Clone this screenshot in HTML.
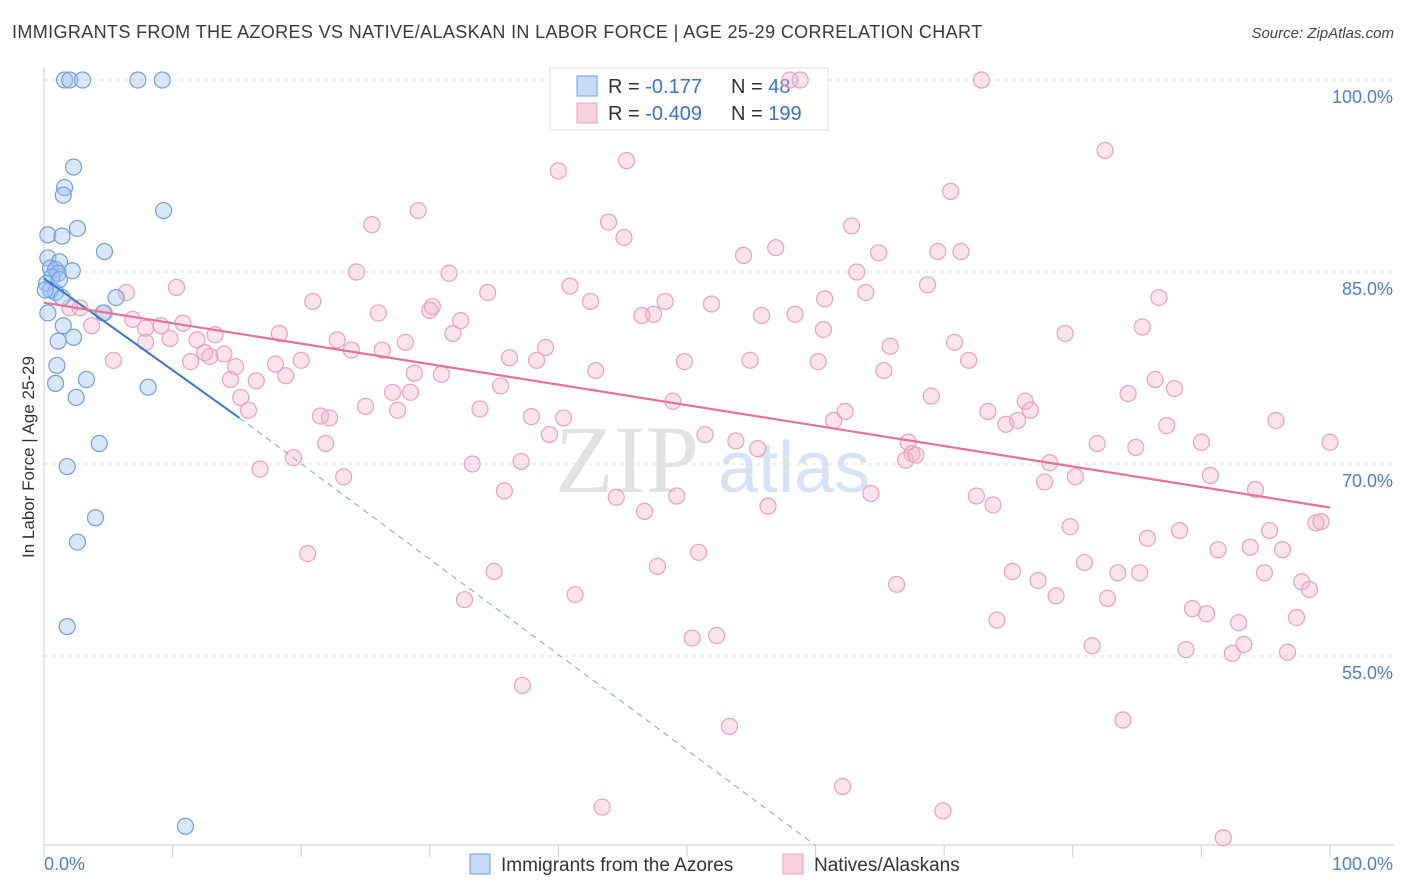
<!DOCTYPE html>
<html><head><meta charset="utf-8">
<style>
body{margin:0;background:#fff;font-family:"Liberation Sans",sans-serif;}
#wrap{position:relative;width:1406px;height:892px;overflow:hidden;}
.t{position:absolute;white-space:nowrap;}
</style></head>
<body>
<div id="wrap">
<div class="t" style="left:12px;top:22px;font-size:18px;color:#3a3a3a;letter-spacing:0.37px;">IMMIGRANTS FROM THE AZORES VS NATIVE/ALASKAN IN LABOR FORCE | AGE 25-29 CORRELATION CHART</div>
<div class="t" style="right:12px;top:25px;font-size:15px;color:#444;font-style:italic;">Source: ZipAtlas.com</div>
<svg id="chart" width="1406" height="892" style="position:absolute;left:0;top:0"></svg>
</div>
<script>
const xTicks=[0,10,20,30,40,50,60,70,80,90,100];
const yTicks=[55,70,85,100];
const yTickLabels=["55.0%","70.0%","85.0%","100.0%"];
const blueX=[1.6,2.0,3.0,7.3,9.2,2.3,1.6,1.5,9.3,2.6,0.3,1.4,4.7,0.3,1.2,0.5,0.9,2.2,1.1,0.6,0.2,0.9,5.6,0.3,1.5,4.6,2.3,1.1,1.0,3.3,0.9,8.1,2.5,4.3,1.8,4.0,2.6,1.8,11.0,0.5,1.2,0.1,1.4];
const blueY=[100,100,100,100,100,93.2,91.6,91.0,89.8,88.4,87.9,87.8,86.6,86.1,85.8,85.3,85.2,85.1,84.9,84.6,84.1,83.4,83.0,81.8,80.8,81.8,79.9,79.6,77.7,76.6,76.3,76.0,75.2,71.6,69.8,65.8,63.9,57.3,41.7,83.6,84.4,83.6,83.0];
const pinkX=[58.0,58.8,72.9,82.5,40.0,45.3,70.5,29.1,43.9,25.5,45.1,62.8,54.4,56.9,64.9,69.5,71.3,24.3,31.5,63.2,40.9,68.7,10.3,34.5,63.9,86.7,20.9,42.5,48.3,51.9,60.7,30.2,26.0,30.0,46.5,47.4,55.8,58.4,32.4,85.4,60.6,18.3,31.8,6.4,4.7,2.0,2.8,3.7,6.9,7.9,9.1,10.8,11.9,13.3,7.9,9.8,5.4,11.4,12.5,12.9,14.0,14.9,18.0,20.0,22.8,23.9,26.3,28.1,36.2,38.3,39.0,49.8,54.9,60.2,65.8,70.8,71.9,79.4,14.5,16.5,18.8,28.8,30.9,35.5,42.9,65.3,86.4,87.9,84.3,15.3,15.9,25.0,27.1,27.5,28.5,33.9,37.9,40.4,48.9,62.3,69.0,73.4,76.3,76.7,75.7,74.8,61.4,21.5,22.2,21.9,39.3,51.4,53.8,55.5,67.2,67.5,67.0,67.8,81.9,84.9,87.3,90.0,95.8,100.0,16.8,19.4,23.3,33.3,37.1,35.8,44.5,46.7,49.2,56.3,64.3,72.5,73.8,78.2,77.8,80.2,90.7,94.2,79.8,85.8,88.3,91.3,93.8,95.3,96.3,98.9,99.3,20.5,35.0,50.9,47.7,66.3,75.3,77.3,80.9,83.5,85.2,94.9,97.8,98.4,32.7,41.3,78.7,82.7,74.1,89.3,90.4,92.9,97.4,50.4,52.3,81.5,88.8,92.4,93.3,96.7,37.2,53.3,83.9,43.4,62.1,69.9,91.7];
const pinkY=[100,100,100,94.5,92.9,93.7,91.3,89.8,88.9,88.7,87.7,88.6,86.3,86.9,86.5,86.6,86.6,85.0,84.9,85.0,83.9,84.0,83.8,83.4,83.4,83.0,82.7,82.7,82.7,82.5,82.9,82.3,81.8,82.0,81.6,81.7,81.6,81.7,81.2,80.7,80.5,80.2,80.2,83.4,81.8,82.2,82.2,80.8,81.3,80.6,80.8,81.0,79.7,80.1,79.5,79.8,78.1,78.0,78.7,78.4,78.6,77.6,77.8,78.1,79.7,78.9,78.9,79.5,78.3,78.1,79.1,78.0,78.1,78.0,79.2,79.5,78.1,80.2,76.6,76.5,76.9,77.1,77.0,76.1,77.3,77.3,76.6,75.9,75.5,75.2,74.2,74.5,75.6,74.2,75.6,74.3,73.7,73.6,74.9,74.1,75.3,74.1,74.9,74.2,73.4,73.1,73.4,73.75,73.6,71.6,72.3,72.3,71.8,71.2,71.7,70.8,70.3,70.7,71.6,71.3,73.0,71.7,73.4,71.7,69.6,70.5,69.0,70.0,70.2,67.9,67.4,66.3,67.5,66.7,67.7,67.5,66.8,70.1,68.6,69.0,69.1,68.0,65.1,64.2,64.8,63.3,63.5,64.8,63.3,65.4,65.5,63.0,61.6,63.1,62.0,60.6,61.6,60.9,62.3,61.5,61.5,61.5,60.8,60.2,59.4,59.8,59.7,59.5,57.8,58.7,58.3,57.6,58.0,56.4,56.6,55.8,55.5,55.2,55.9,55.3,52.7,49.5,50.0,43.2,44.8,42.9,40.8];
const blueFit=[84.5,-0.717];
const pinkFit=[82.6,-0.16];

const X0=44,X1=1330,YTOP=80,PPY=12.8,BOTTOM=845,RIGHT=1394;
const sx=v=>X0+(X1-X0)*v/100;
const sy=v=>YTOP+(100-v)*PPY;
const svg=document.getElementById('chart');
const NS='http://www.w3.org/2000/svg';
function mk(tag,attrs){const e=document.createElementNS(NS,tag);for(const k in attrs)e.setAttribute(k,attrs[k]);svg.appendChild(e);return e;}

let wm=mk('text',{x:555,y:492,'font-size':96,'font-family':'Liberation Serif, serif',fill:'#e2e2e2'});wm.textContent='ZIP';

let wm2=mk('text',{x:718,y:492,'font-size':72,'font-family':'Liberation Sans, sans-serif',fill:'#d5e3f5'});wm2.textContent='atlas';


yTicks.forEach((v,i)=>{
  const g=mk('line',{x1:X0,x2:RIGHT,y1:sy(v),y2:sy(v),stroke:'#ddd','stroke-dasharray':'4,4'});
  
  const t=mk('text',{x:1393,y:sy(v)+23,'text-anchor':'end','font-size':18,fill:'#4a7fd9','font-family':'Liberation Sans, sans-serif'});
  t.textContent=yTickLabels[i];
  
});
let ax=mk('line',{x1:X0,x2:X0,y1:68,y2:BOTTOM,stroke:'#ccc'});

let bx=mk('line',{x1:X0,x2:RIGHT,y1:BOTTOM,y2:BOTTOM,stroke:'#ccc'});

xTicks.forEach(v=>{const l=mk('line',{x1:sx(v),x2:sx(v),y1:BOTTOM,y2:BOTTOM+12,stroke:'#ccc'});
  });
let xl0=mk('text',{x:44,y:870,'font-size':18,fill:'#4a7fd9','font-family':'Liberation Sans, sans-serif'});xl0.textContent='0.0%';

let xl1=mk('text',{x:1393,y:870,'text-anchor':'end','font-size':18,fill:'#4a7fd9','font-family':'Liberation Sans, sans-serif'});xl1.textContent='100.0%';

let yt=mk('text',{x:0,y:0,transform:'translate(34,457) rotate(-90)','text-anchor':'middle','font-size':17,fill:'#333','font-family':'Liberation Sans, sans-serif'});yt.textContent='In Labor Force | Age 25-29';


// top legend (drawn under points)
let lb=mk('rect',{x:550,y:68,width:278,height:62,fill:'#fff',stroke:'#ddd'});

[[0,'rgba(160,195,240,0.6)','#6e9fe0','-0.177','48'],[1,'rgba(244,176,200,0.6)','#eba0bd','-0.409','199']].forEach(([i,f,s,r,n])=>{
  const y=86+i*27;
  const sq=mk('rect',{x:577,y:y-10,width:20,height:20,fill:f,stroke:s});
  
  const t=mk('text',{x:608,y:y+7,'font-size':20,fill:'#333','font-family':'Liberation Sans, sans-serif'});
  t.innerHTML='R = <tspan fill="#3a6fd8"> '+r+'</tspan><tspan x="731">N = </tspan><tspan fill="#3a6fd8">'+(i?'':' ')+n+'</tspan>';
  
});

pinkX.forEach((x,i)=>{const c=mk('circle',{cx:sx(x),cy:sy(pinkY[i]),r:8,fill:'rgba(244,176,200,0.35)',stroke:'#eba0bd','stroke-width':1.2});
  });
blueX.forEach((x,i)=>{const c=mk('circle',{cx:sx(x),cy:sy(blueY[i]),r:8,fill:'rgba(160,195,240,0.4)',stroke:'#6e9fe0','stroke-width':1.2});
  });

const bEnd=15.2;
let bl=mk('line',{x1:sx(0),y1:sy(blueFit[0]),x2:sx(bEnd),y2:sy(blueFit[0]+blueFit[1]*bEnd),stroke:'#3a75d8','stroke-width':2});

let bd=mk('line',{x1:sx(bEnd),y1:sy(blueFit[0]+blueFit[1]*bEnd),x2:sx(60),y2:sy(40.2),stroke:'#7aa5e5','stroke-width':1,'stroke-dasharray':'6,5'});

let pl=mk('line',{x1:sx(0),y1:sy(pinkFit[0]),x2:sx(100),y2:sy(pinkFit[0]+pinkFit[1]*100),stroke:'#e8709a','stroke-width':2.2});


[[470,'rgba(160,195,240,0.6)','#6e9fe0','Immigrants from the Azores'],[783,'rgba(244,176,200,0.6)','#eba0bd','Natives/Alaskans']].forEach(([x,f,s,l])=>{
  const sq=mk('rect',{x:x,y:854,width:20,height:20,fill:f,stroke:s});
  
  const t=mk('text',{x:x+31,y:871,'font-size':19,fill:'#333','font-family':'Liberation Sans, sans-serif'});t.textContent=l;
  
});
</script>
</body></html>
